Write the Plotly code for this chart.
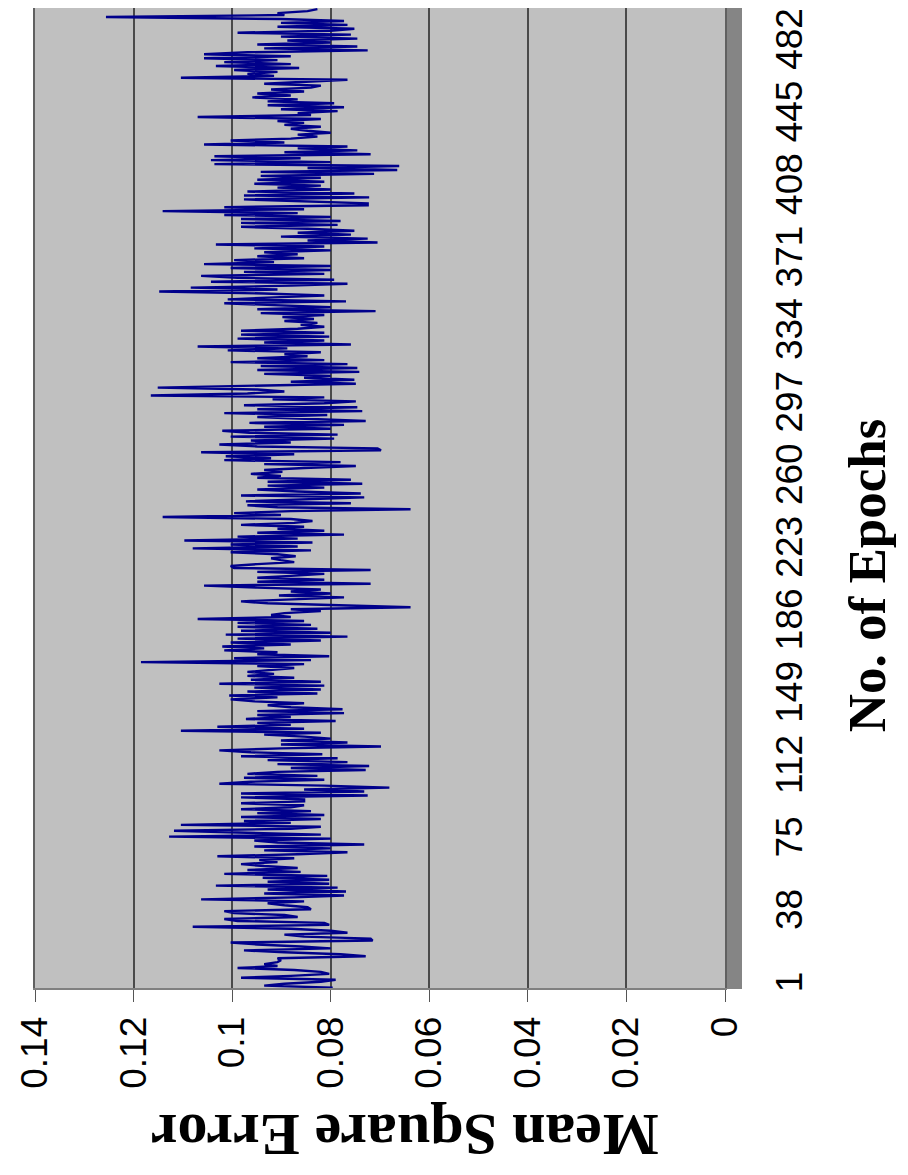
import plotly.graph_objects as go

# Mean square error per epoch (epochs 1..500), in blocks
mse_001_045 = [0.0796, 0.0935, 0.0894, 0.0820, 0.0790, 0.0982, 0.0881, 0.0803, 0.0820, 0.0874,
               0.0989, 0.0908, 0.0935, 0.0908, 0.0901, 0.0908, 0.0729, 0.0780, 0.0894, 0.0976,
               0.0800, 0.0861, 0.0949, 0.1003, 0.0715, 0.0719, 0.0854, 0.0894, 0.0766, 0.0800,
               0.0881, 0.1080, 0.0803, 0.0813, 0.0989, 0.1016, 0.0867, 0.0894, 0.0996, 0.1016,
               0.0840, 0.0847, 0.0894, 0.0928, 0.0854]
mse_046_096 = [0.1063, 0.0874, 0.0773, 0.0935, 0.0769, 0.0928, 0.0786, 0.1033, 0.0803, 0.0928,
               0.0803, 0.0938, 0.0807, 0.1016, 0.0861, 0.0969, 0.0867, 0.0935, 0.0982, 0.0908,
               0.0945, 0.0874, 0.1030, 0.0867, 0.0766, 0.0935, 0.0800, 0.0955, 0.0732, 0.0908,
               0.0955, 0.0800, 0.1128, 0.0820, 0.0996, 0.1118, 0.0881, 0.0820, 0.1104, 0.0881,
               0.0976, 0.0820, 0.0982, 0.0813, 0.0949, 0.0840, 0.0982, 0.0881, 0.0854, 0.0982,
               0.0854]
mse_097_147 = [0.0854, 0.0982, 0.0725, 0.0982, 0.0732, 0.0854, 0.0681, 0.0813, 0.1026, 0.0962,
               0.0813, 0.0976, 0.0827, 0.0969, 0.0908, 0.0729, 0.0881, 0.0722, 0.0908, 0.0766,
               0.0928, 0.0786, 0.0982, 0.0817, 0.0962, 0.1026, 0.0901, 0.0698, 0.0901, 0.0766,
               0.0901, 0.0800, 0.0854, 0.0935, 0.0820, 0.1104, 0.0854, 0.1030, 0.0881, 0.0949,
               0.0790, 0.0972, 0.0881, 0.0949, 0.0773, 0.0949, 0.0776, 0.0881, 0.0928, 0.0854,
               0.0955]
mse_148_197 = [0.1003, 0.0908, 0.1006, 0.0827, 0.0969, 0.0820, 0.0955, 0.0813, 0.1026, 0.0820,
               0.0962, 0.0874, 0.0969, 0.0915, 0.0969, 0.0921, 0.0874, 0.0949, 0.0854, 0.1185,
               0.0840, 0.0996, 0.0803, 0.0949, 0.0908, 0.1016, 0.0935, 0.1020, 0.0881, 0.1003,
               0.0820, 0.0989, 0.0766, 0.1013, 0.0800, 0.0982, 0.0827, 0.0989, 0.0840, 0.0989,
               0.0854, 0.1070, 0.0881, 0.0921, 0.0894, 0.0820, 0.0881, 0.0638, 0.0813, 0.0928]
mse_198_248 = [0.0982, 0.0854, 0.0773, 0.0905, 0.0800, 0.0881, 0.0820, 0.0949, 0.1057, 0.0719,
               0.0949, 0.0813, 0.0949, 0.0881, 0.0813, 0.0949, 0.0719, 0.0996, 0.1003, 0.0949,
               0.0874, 0.0901, 0.0921, 0.0871, 0.0908, 0.1003, 0.0840, 0.1080, 0.0867, 0.1003,
               0.0837, 0.1097, 0.0867, 0.0989, 0.0773, 0.0949, 0.0813, 0.0908, 0.0854, 0.0982,
               0.0874, 0.0837, 0.0881, 0.1141, 0.0901, 0.0996, 0.0881, 0.0638, 0.0908, 0.0969,
               0.0759]
mse_249_299 = [0.0972, 0.0854, 0.0732, 0.0982, 0.0739, 0.0867, 0.0949, 0.0813, 0.0928, 0.0736,
               0.0928, 0.0759, 0.0949, 0.0901, 0.0962, 0.0898, 0.0935, 0.0854, 0.0749, 0.0935,
               0.0780, 0.1016, 0.0921, 0.1013, 0.0874, 0.1063, 0.0698, 0.0705, 0.0949, 0.1026,
               0.0881, 0.0962, 0.0793, 0.1003, 0.0786, 0.0965, 0.1020, 0.0800, 0.0935, 0.0773,
               0.0965, 0.0729, 0.0854, 0.0949, 0.0807, 0.1016, 0.0736, 0.0949, 0.0746, 0.0976,
               0.0813]
mse_300_350 = [0.0749, 0.0918, 0.0813, 0.1165, 0.0969, 0.0894, 0.0949, 0.1151, 0.0915, 0.0749,
               0.0881, 0.0752, 0.0854, 0.0800, 0.0935, 0.0742, 0.0949, 0.0746, 0.0942, 0.0766,
               0.1003, 0.0813, 0.0949, 0.0847, 0.0894, 0.0820, 0.1009, 0.0888, 0.1070, 0.0759,
               0.0935, 0.0813, 0.0989, 0.0803, 0.0982, 0.0813, 0.0982, 0.0867, 0.0813, 0.0861,
               0.0827, 0.0894, 0.0834, 0.0898, 0.0813, 0.0942, 0.0709, 0.0949, 0.0800, 0.0894,
               0.1016]
mse_351_400 = [0.0769, 0.1009, 0.0915, 0.0813, 0.0935, 0.1148, 0.0908, 0.1084, 0.0881, 0.0766,
               0.1043, 0.0793, 0.0989, 0.1063, 0.0813, 0.0976, 0.0800, 0.1003, 0.0800, 0.1057,
               0.0915, 0.0996, 0.0854, 0.0949, 0.0867, 0.0935, 0.0800, 0.0955, 0.0813, 0.1033,
               0.0705, 0.0847, 0.0725, 0.0901, 0.0759, 0.0867, 0.0752, 0.0847, 0.0982, 0.0786,
               0.0982, 0.0780, 0.0982, 0.0800, 0.1016, 0.0867, 0.1141, 0.0854, 0.1016, 0.0725]
mse_401_451 = [0.0725, 0.0847, 0.0976, 0.0722, 0.0976, 0.0752, 0.0969, 0.0800, 0.0908, 0.0820,
               0.0955, 0.0813, 0.0949, 0.0820, 0.0942, 0.0712, 0.0942, 0.0665, 0.0847, 0.0661,
               0.1036, 0.0800, 0.1043, 0.0861, 0.1036, 0.0719, 0.0894, 0.0746, 0.0867, 0.0766,
               0.1057, 0.0894, 0.1003, 0.0881, 0.0827, 0.0867, 0.0800, 0.0847, 0.0881, 0.0820,
               0.0894, 0.0854, 0.0908, 0.0820, 0.1070, 0.0840, 0.0867, 0.0786, 0.0901, 0.0773,
               0.0928]
mse_452_500 = [0.0793, 0.0928, 0.0867, 0.0959, 0.0881, 0.0949, 0.0854, 0.0921, 0.0840, 0.0820,
               0.0935, 0.0861, 0.0766, 0.1104, 0.0915, 0.0969, 0.0908, 0.0996, 0.0864, 0.1033,
               0.0881, 0.1016, 0.0908, 0.1057, 0.0881, 0.1057, 0.0969, 0.0725, 0.0935, 0.0746,
               0.0949, 0.0800, 0.0888, 0.0746, 0.0901, 0.0759, 0.0989, 0.0800, 0.0752, 0.0908,
               0.0766, 0.0901, 0.0773, 0.0901, 0.1256, 0.0894, 0.0908, 0.0847, 0.0827]

mse = (mse_001_045 + mse_046_096 + mse_097_147 + mse_148_197 + mse_198_248 +
       mse_249_299 + mse_300_350 + mse_351_400 + mse_401_451 + mse_452_500)
epochs = list(range(1, len(mse) + 1))

epoch_tick_vals = [1, 38, 75, 112, 149, 186, 223, 260, 297, 334, 371, 408, 445, 482]
epoch_tick_text = [str(v) for v in epoch_tick_vals]
mse_tick_vals = [0, 0.02, 0.04, 0.06, 0.08, 0.1, 0.12, 0.14]
mse_tick_text = ["0", "0.02", "0.04", "0.06", "0.08", "0.1", "0.12", "0.14"]

x_title = "Mean Square Error"
y_title = "No. of Epochs"

fig = go.Figure()
fig.add_trace(go.Scatter(
    x=mse, y=epochs, mode="lines",
    line=dict(color="#00008b", width=2.4),
    showlegend=False, hoverinfo="skip",
))

tick_font = dict(family="Liberation Sans, Arial, sans-serif", size=37, color="black")
title_font_x = dict(family="Liberation Serif, Times New Roman, serif", size=60, color="black")
title_font_y = dict(family="Liberation Serif, Times New Roman, serif", size=53, color="black")

# the page adds an 8 px body margin, so the figure is 8 px smaller each way
fig.update_layout(
    width=900, height=1167,
    margin=dict(l=27, r=183, t=0, b=187),
    paper_bgcolor="white",
    plot_bgcolor="#c0c0c0",
    xaxis=dict(
        range=[0.14, 0], automargin=False,
        tickmode="array", tickvals=mse_tick_vals, ticktext=mse_tick_text,
        tickangle=-90, tickfont=tick_font,
        ticks="outside", ticklen=12, tickcolor="#555555", tickwidth=1,
        ticklabelstandoff=0,
        showgrid=True, gridcolor="#4a4a4a", gridwidth=1.5,
        zeroline=False,
        showline=True, linecolor="#808080", linewidth=2, mirror=True,
    ),
    yaxis=dict(
        range=[0.8, 500.6], automargin=False,
        side="right",
        tickmode="array", tickvals=epoch_tick_vals, ticktext=epoch_tick_text,
        tickangle=-90, tickfont=tick_font,
        ticks="outside", ticklen=15, tickcolor="#858585", tickwidth=2,
        ticklabelstandoff=16,
        minor=dict(tickmode="linear", tick0=1, dtick=1, ticks="outside",
                   ticklen=15, tickcolor="#858585", tickwidth=2, showgrid=False),
        showgrid=False, zeroline=False,
        showline=True, linecolor="#606060", linewidth=1.5, mirror=True,
    ),
    annotations=[
        dict(text="<b>" + y_title + "</b>", xref="paper", yref="paper",
             x=1.207, y=0.421, textangle=-90, showarrow=False,
             font=title_font_y, xanchor="center", yanchor="middle"),
        dict(text="<b>" + x_title + "</b>", xref="paper", yref="paper",
             x=0.536, y=-0.15, textangle=180, showarrow=False,
             font=title_font_x, xanchor="center", yanchor="middle"),
    ],
)

fig.write_html("out.html")
